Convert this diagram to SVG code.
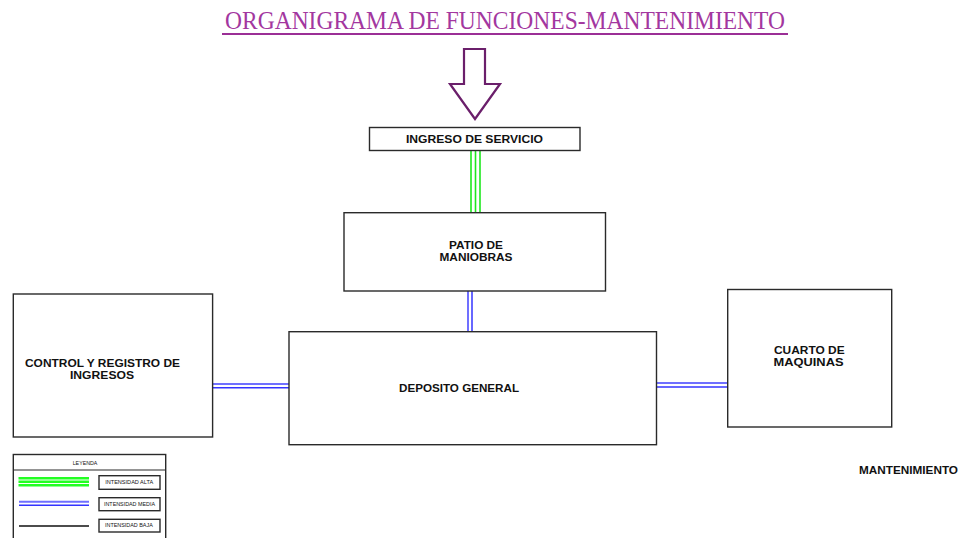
<svg xmlns="http://www.w3.org/2000/svg" width="965" height="538" viewBox="0 0 965 538">
<style>
.box{fill:#fff;stroke:#2a2a2a;stroke-width:1.4}
.lbl{font-family:"Liberation Sans",Arial,sans-serif;font-weight:bold;font-size:11px;fill:#111;text-anchor:middle}
.tiny{font-family:"Liberation Sans",Arial,sans-serif;font-size:4.5px;fill:#111;text-anchor:middle}
.g{stroke:#1ee81e;stroke-width:1.6;fill:none}
.b1{stroke:#7070ff;stroke-width:2;fill:none}
.b2{stroke:#3434ff;stroke-width:1.5;fill:none}
.k{stroke:#111;stroke-width:1.3;fill:none}
</style>
<rect width="965" height="538" fill="#fff"/>
<g id="title">
<text x="505" y="29" font-family="Liberation Serif,'Times New Roman',serif" font-size="26" fill="#a3379f" text-anchor="middle" textLength="560" lengthAdjust="spacingAndGlyphs">ORGANIGRAMA DE FUNCIONES-MANTENIMIENTO</text>
<line x1="222" y1="34" x2="788" y2="34" stroke="#9b2f96" stroke-width="2.2"/>
</g>
<g id="arrow">
<polygon points="464,49 485,49 485,84 500,84 475,119 450,84 464,84" fill="#fff" stroke="#6b1f6b" stroke-width="2.2" stroke-linejoin="miter"/>
</g>
<g id="connectors">
<line class="g" x1="471" y1="151" x2="471" y2="212"/>
<line class="g" x1="475.5" y1="151" x2="475.5" y2="212"/>
<line class="g" x1="480" y1="151" x2="480" y2="212"/>
<line class="b1" x1="468" y1="291" x2="468" y2="331"/>
<line class="b2" x1="472" y1="291" x2="472" y2="331"/>
<line class="b1" x1="213" y1="384" x2="289" y2="384"/>
<line class="b2" x1="213" y1="387.7" x2="289" y2="387.7"/>
<line class="b1" x1="657" y1="383" x2="727" y2="383"/>
<line class="b2" x1="657" y1="387" x2="727" y2="387"/>
</g>
<g id="ingreso">
<rect class="box" x="369.5" y="127.5" width="210.5" height="23"/>
<text class="lbl" x="474.5" y="143.3" textLength="137" lengthAdjust="spacingAndGlyphs">INGRESO DE SERVICIO</text>
</g>
<g id="patio">
<rect class="box" x="344" y="212.7" width="261.5" height="78.3"/>
<text class="lbl" x="476" y="249" textLength="54" lengthAdjust="spacingAndGlyphs">PATIO DE</text>
<text class="lbl" x="476" y="261" textLength="73" lengthAdjust="spacingAndGlyphs">MANIOBRAS</text>
</g>
<g id="deposito">
<rect class="box" x="289" y="331.7" width="367.5" height="113"/>
<text class="lbl" x="459" y="391.5" textLength="120" lengthAdjust="spacingAndGlyphs">DEPOSITO GENERAL</text>
</g>
<g id="control">
<rect class="box" x="13.3" y="294" width="199.3" height="143"/>
<text class="lbl" x="102.5" y="367" textLength="155" lengthAdjust="spacingAndGlyphs">CONTROL Y REGISTRO DE</text>
<text class="lbl" x="102" y="379.3" textLength="64" lengthAdjust="spacingAndGlyphs">INGRESOS</text>
</g>
<g id="cuarto">
<rect class="box" x="727.7" y="289.5" width="164" height="137.5"/>
<text class="lbl" x="809.3" y="354" textLength="70.7" lengthAdjust="spacingAndGlyphs">CUARTO DE</text>
<text class="lbl" x="808.5" y="366" textLength="70" lengthAdjust="spacingAndGlyphs">MAQUINAS</text>
</g>
<g id="mantenimiento">
<text class="lbl" x="908.5" y="474" textLength="99" lengthAdjust="spacingAndGlyphs">MANTENIMIENTO</text>
</g>
<g id="leyenda">
<rect class="box" x="13.3" y="454.5" width="152.4" height="95" stroke-width="1.2"/>
<line x1="13.3" y1="470" x2="165.7" y2="470" stroke="#2a2a2a" stroke-width="1.1"/>
<text class="tiny" x="85" y="465" textLength="24.6" lengthAdjust="spacingAndGlyphs">LEYENDA</text>
<line x1="18.5" y1="478.3" x2="89" y2="478.3" stroke="#22ff22" stroke-width="2.6"/>
<line x1="18.5" y1="481.8" x2="89" y2="481.8" stroke="#22ff22" stroke-width="2.6"/>
<line x1="18.5" y1="485.3" x2="89" y2="485.3" stroke="#22ff22" stroke-width="2.6"/>
<line class="b1" x1="19" y1="501.7" x2="89" y2="501.7"/>
<line class="b2" x1="19" y1="505.3" x2="89" y2="505.3"/>
<line class="k" x1="19" y1="526" x2="89" y2="526"/>
<rect class="box" x="99" y="475.7" width="61" height="13.6" stroke-width="1.2"/>
<text class="tiny" x="129.2" y="484.2" textLength="48" lengthAdjust="spacingAndGlyphs">INTENSIDAD ALTA</text>
<rect class="box" x="99" y="497.7" width="61" height="13" stroke-width="1.2"/>
<text class="tiny" x="129.5" y="505.8" textLength="51" lengthAdjust="spacingAndGlyphs">INTENSIDAD MEDIA</text>
<rect class="box" x="99" y="519.3" width="61" height="12.7" stroke-width="1.2"/>
<text class="tiny" x="128.9" y="527.3" textLength="47.7" lengthAdjust="spacingAndGlyphs">INTENSIDAD BAJA</text>
</g>
</svg>
